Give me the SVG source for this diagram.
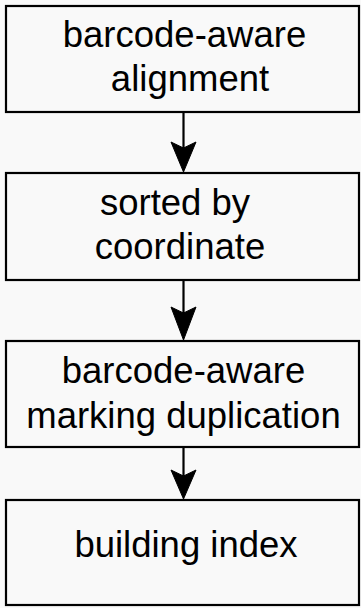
<svg xmlns="http://www.w3.org/2000/svg" width="361" height="608" viewBox="0 0 361 608">
<style>
.box{fill:#f9f9f9;stroke:#000;stroke-width:2.2}
.lbl{font-family:"Liberation Sans",Arial,sans-serif;font-size:36.5px;fill:#000;text-anchor:middle}
.edge{stroke:#000;stroke-width:2.2;fill:none}
.head{fill:#000;stroke:#000;stroke-width:1}
</style>
<rect x="0" y="0" width="361" height="608" fill="#f9f9f9"/>
<g id="n1">
<rect class="box" x="6" y="6" width="353" height="106"/>
<text class="lbl" x="184.5" y="47">barcode-aware</text>
<text class="lbl" x="190" y="91">alignment</text>
</g>
<g id="n2">
<rect class="box" x="6" y="173" width="353" height="107"/>
<text class="lbl" x="175" y="215">sorted by</text>
<text class="lbl" x="180" y="259">coordinate</text>
</g>
<g id="n3">
<rect class="box" x="6" y="341" width="353" height="106"/>
<text class="lbl" x="183.5" y="383">barcode-aware</text>
<text class="lbl" x="183.5" y="428">marking duplication</text>
</g>
<g id="n4">
<rect class="box" x="6" y="500" width="353" height="105"/>
<text class="lbl" x="186" y="557">building index</text>
</g>
<g id="edges">
<line class="edge" x1="183.5" y1="112" x2="183.5" y2="148"/>
<path class="head" d="M183.5,172 L171,142 L183.5,148 L196,142 Z"/>
<line class="edge" x1="183.5" y1="280" x2="183.5" y2="313"/>
<path class="head" d="M183.5,340 L171,307 L183.5,313 L196,307 Z"/>
<line class="edge" x1="183.5" y1="447" x2="183.5" y2="476"/>
<path class="head" d="M183.5,499 L171,470 L183.5,476 L196,470 Z"/>
</g>
</svg>
